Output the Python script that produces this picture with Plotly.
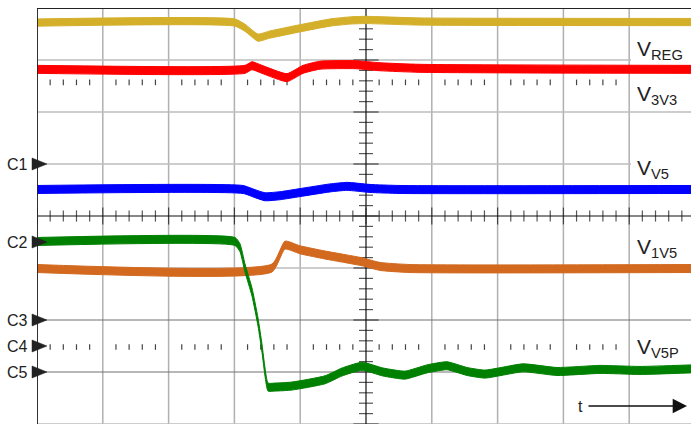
import plotly.graph_objects as go

# ---- data (screen divisions: x 0..10 left->right, y 0..8 bottom->top) ----
vreg_x = [0, 3.009, 3.161, 3.359, 3.541, 3.997, 4.453, 4.757, 4.985, 5.821, 9.939]
vreg_y = [7.72, 7.72, 7.62, 7.43, 7.49, 7.61, 7.72, 7.76, 7.77, 7.74, 7.73]

v3v3_x = [0, 3.161, 3.267, 3.419, 3.799, 4.043, 4.301, 4.833, 5.213, 5.821, 9.939]
v3v3_y = [6.82, 6.82, 6.89, 6.82, 6.66, 6.82, 6.90, 6.91, 6.87, 6.84, 6.82]

vv5_x = [0, 3.131, 3.313, 3.465, 3.693, 3.997, 4.453, 4.711, 5.061, 5.517, 9.939]
vv5_y = [4.51, 4.51, 4.43, 4.37, 4.39, 4.45, 4.54, 4.57, 4.53, 4.51, 4.51]

v1v5_x = [0, 3.571, 3.769, 3.997, 4.377, 4.939, 5.213, 5.669, 9.939]
v1v5_y = [2.99, 3.00, 3.44, 3.35, 3.25, 3.12, 3.03, 2.99, 2.99]

vv5p_x = [0, 3.009, 3.085, 3.161, 3.267, 3.359, 3.419, 3.465, 3.511, 3.617, 3.875,
          4.377, 4.635, 4.939, 5.258, 5.593, 5.927, 6.231, 6.535, 6.809, 7.386,
          7.903, 8.556, 9.164, 9.939]
vv5p_y = [3.51, 3.51, 3.39, 3.00, 2.54, 1.96, 1.46, 1.00, 0.71, 0.71, 0.73,
          0.85, 1.00, 1.11, 1.00, 0.94, 1.06, 1.12, 1.01, 0.96, 1.08,
          1.01, 1.05, 1.03, 1.06]

trace_labels = ["REG", "3V3", "V5", "1V5", "V5P"]
label_levels = [7.20, 6.33, 4.91, 3.39, 1.46]
channel_names = ["C1", "C2", "C3", "C4", "C5"]
channel_levels = [5.0, 3.5, 2.0, 1.5, 1.0]
ref_rows = [6.57, 1.48]

# ---- styling ----
W, H = 691, 424
ML, MT = 37, 8.3
PX_X = 65.8
XMAX = (W - ML) / PX_X
PLOT_H = H - MT
PX_Y = PLOT_H / 8.0
PLOT_W = W - ML
FONT = "Liberation Sans, Arial, sans-serif"
TXT = "#222222"
LABEL_X = (631 - ML) / PX_X

series = [
    (vreg_x, vreg_y, "#D4AF2A", 3.6),
    (v3v3_x, v3v3_y, "#FF0000", 4.0),
    (vv5_x, vv5_y, "#0000FF", 4.0),
    (v1v5_x, v1v5_y, "#D2691E", 4.0),
    (vv5p_x, vv5p_y, "#008000", 4.0),
]

fig = go.Figure()

# graticule
shapes = []
for i in range(11):
    if i == 5:
        continue
    shapes.append(dict(type="line", xref="x", yref="y", x0=i, x1=i, y0=0, y1=8,
                       line=dict(color="#b0b0b0", width=1.5), layer="below"))
for j in range(8):
    if j == 4:
        continue
    col, wd = ("#707070", 1) if j in (1, 2) else ("#bdbdbd", 1.5)
    shapes.append(dict(type="line", xref="x", yref="y", x0=0, x1=10, y0=j, y1=j,
                       line=dict(color=col, width=wd), layer="below"))
shapes.append(dict(type="line", xref="x", yref="y", x0=5, x1=5, y0=0, y1=8,
                   line=dict(color="#111111", width=1.2), layer="below"))
shapes.append(dict(type="line", xref="x", yref="y", x0=0, x1=10, y0=4, y1=4,
                   line=dict(color="#111111", width=1.2), layer="below"))
# white label backgrounds (hide graticule behind trace names)
for lvl in label_levels:
    shapes.append(dict(type="rect", xref="x", yref="y", x0=LABEL_X, x1=10.2,
                       y0=lvl - 13.5 / PX_Y, y1=lvl + 13.5 / PX_Y,
                       line=dict(width=0), fillcolor="white", layer="below"))
# borders
shapes.append(dict(type="line", xref="x", yref="y", x0=0, x1=0, y0=0, y1=8,
                   line=dict(color="#222222", width=1.8), layer="above"))
shapes.append(dict(type="line", xref="x", yref="y", x0=0, x1=10, y0=8, y1=8,
                   line=dict(color="#222222", width=1.8), layer="above"))
# channel ground markers (right-pointing triangles on the left edge)
tri_l, tri_r, tri_h = -5 / PLOT_W, 10 / PLOT_W, 6 / PLOT_H
for lvl in channel_levels:
    yc = lvl / 8.0
    shapes.append(dict(type="path", xref="paper", yref="paper",
                       path=f"M {tri_l},{yc - tri_h} L {tri_r},{yc} L {tri_l},{yc + tri_h} Z",
                       fillcolor="#222222", line=dict(color="#222222", width=0.5), layer="above"))

# center-line ticks
hx = [k * 0.2 for k in range(51)]
fig.add_trace(go.Scatter(x=hx, y=[4] * len(hx), mode="markers", hoverinfo="skip",
                         marker=dict(symbol="line-ns", size=[12 if k % 5 == 0 else 8 for k in range(51)],
                                     line=dict(color="#111111", width=1.2)), showlegend=False))
vy = [k * 0.2 for k in range(41)]
fig.add_trace(go.Scatter(x=[5] * len(vy), y=vy, mode="markers", hoverinfo="skip",
                         marker=dict(symbol="line-ew", size=[18 if k % 5 == 0 else 10 for k in range(41)],
                                     line=dict(color="#111111", width=1.2)), showlegend=False))
# reference dotted rows
for r in ref_rows:
    dx = [k * 0.2 for k in range(1, 45) if k % 5 != 0]
    fig.add_trace(go.Scatter(x=dx, y=[r] * len(dx), mode="markers", hoverinfo="skip",
                             marker=dict(symbol="line-ns", size=4, line=dict(color="#444444", width=1.2)),
                             showlegend=False))

# signal bands
for xs, ys, col, hpx in series:
    h = hpx / PX_Y
    fig.add_trace(go.Scatter(x=xs, y=[v - h for v in ys], mode="lines", hoverinfo="skip",
                             line=dict(color=col, width=1, shape="spline", smoothing=0.5), showlegend=False))
    fig.add_trace(go.Scatter(x=xs, y=[v + h for v in ys], mode="lines", hoverinfo="skip",
                             fill="tonexty", fillcolor=col,
                             line=dict(color=col, width=1, shape="spline", smoothing=0.5), showlegend=False))

annotations = []
for name, lvl in zip(channel_names, channel_levels):
    annotations.append(dict(x=(30 - ML) / PLOT_W, y=lvl / 8.0, xref="paper", yref="paper",
                            text=name, showarrow=False, xanchor="right", yanchor="middle",
                            font=dict(family=FONT, size=16, color=TXT)))
for lab, lvl in zip(trace_labels, label_levels):
    annotations.append(dict(x=LABEL_X + 5 / PX_X, y=lvl, xref="x", yref="y",
                            text="V<sub>" + lab + "</sub>", showarrow=False,
                            xanchor="left", yanchor="middle", borderpad=0,
                            font=dict(family=FONT, size=21, color=TXT)))
annotations.append(dict(x=(580 - ML) / PX_X, y=(H - 407) / PX_Y, xref="x", yref="y", text="t",
                        showarrow=False, xanchor="center", yanchor="middle",
                        font=dict(family=FONT, size=16, color=TXT)))
annotations.append(dict(x=(687 - ML) / PX_X, y=(H - 406) / PX_Y, xref="x", yref="y", text="",
                        showarrow=True, ax=-100, ay=0, arrowhead=2, arrowsize=2.2,
                        arrowwidth=1.3, arrowcolor="#111111"))

fig.update_layout(
    width=W, height=H,
    margin=dict(l=ML, r=0, t=MT, b=0, pad=0),
    paper_bgcolor="white", plot_bgcolor="white",
    xaxis=dict(range=[0, XMAX], visible=False, fixedrange=True),
    yaxis=dict(range=[0, 8], visible=False, fixedrange=True),
    shapes=shapes, annotations=annotations,
    font=dict(family=FONT),
)

fig.write_html("out.html", config={"displayModeBar": False},
               post_script="document.body.style.margin='0';document.body.style.overflow='hidden';")
